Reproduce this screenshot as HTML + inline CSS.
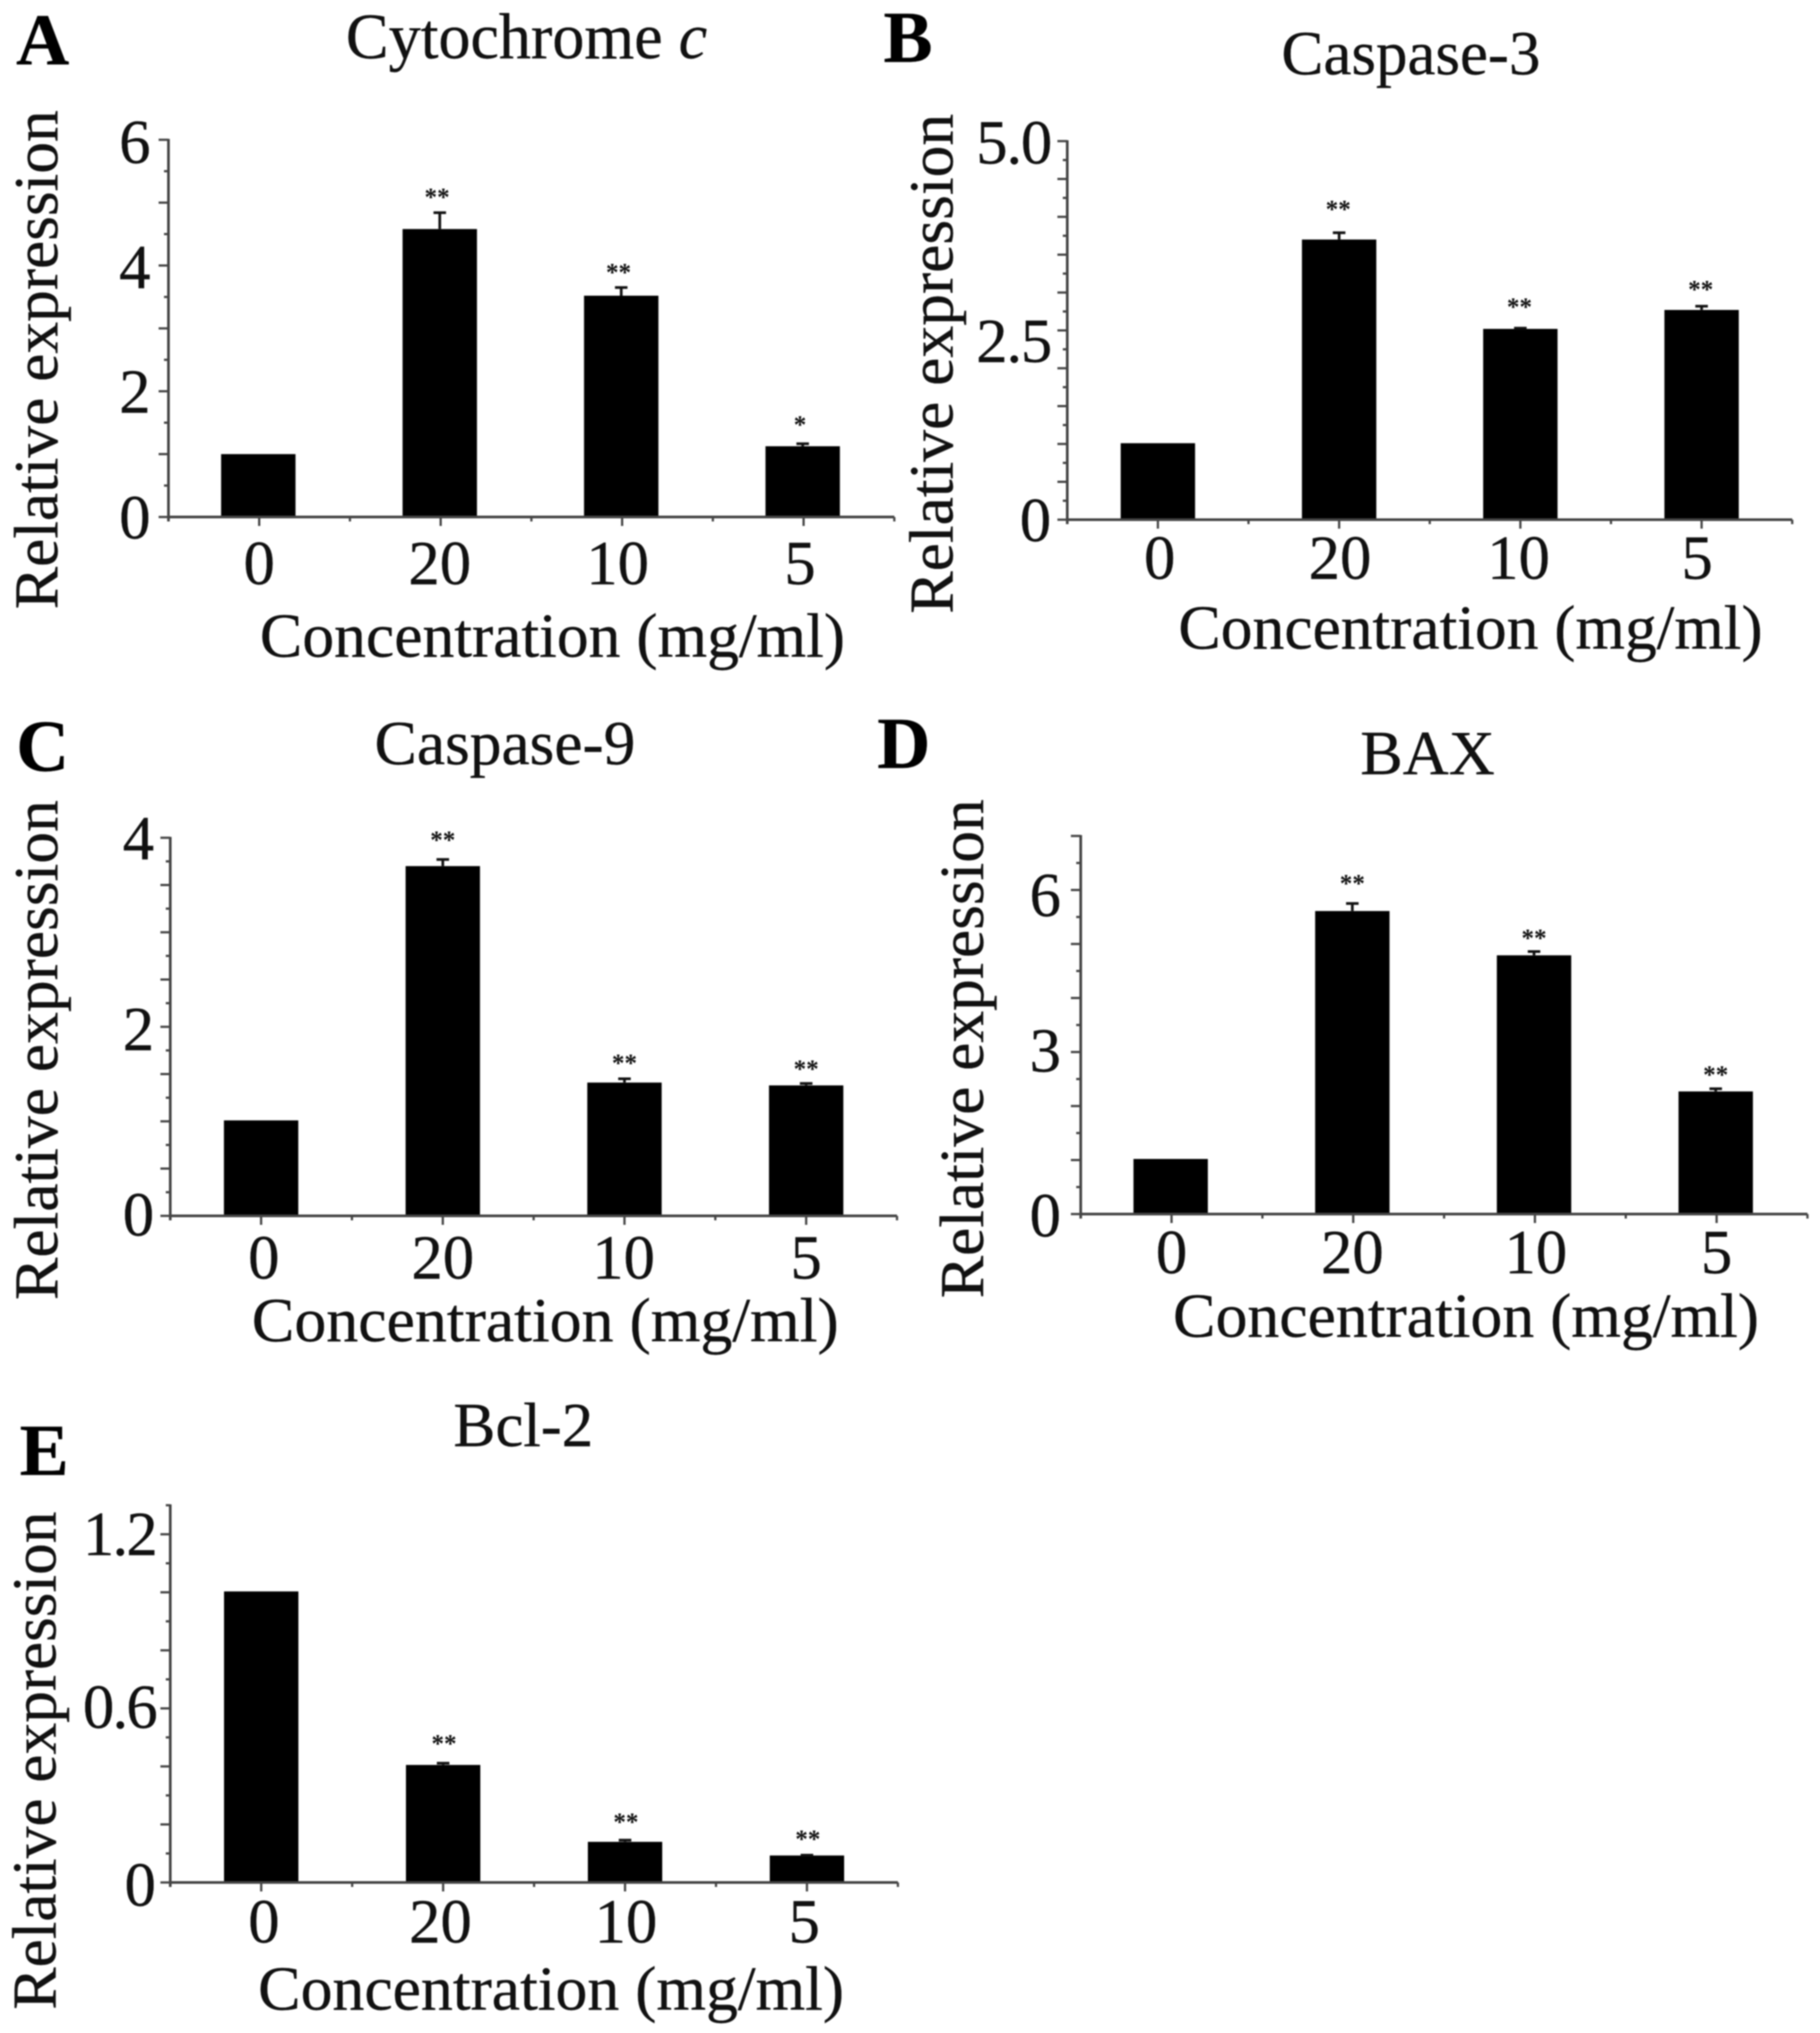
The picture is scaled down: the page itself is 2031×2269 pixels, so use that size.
<!DOCTYPE html>
<html lang="en">
<head>
<meta charset="utf-8">
<title>Relative expression by concentration</title>
<style>
html,body{margin:0;padding:0;background:#fff;}
body{width:2031px;height:2269px;overflow:hidden;}
svg{display:block;filter:blur(0.8px);}
text{font-family:"Liberation Serif",serif;fill:#111;stroke:#111;stroke-width:0.4px;}
.axis-title,.tick-label,.panel-title{font-size:70px;}
.panel-letter{font-size:82px;font-weight:bold;fill:#000;}
.star{font-size:28px;font-weight:bold;text-anchor:middle;stroke-width:0;}
</style>
</head>
<body>
<svg id="figure" xmlns="http://www.w3.org/2000/svg" width="2031" height="2269" viewBox="0 0 2031 2269">
  <rect x="0" y="0" width="2031" height="2269" fill="#fff"/>

  <g>
    <text class="panel-letter" x="18" y="72">A</text>
    <text class="panel-title" style="font-size:71.5px" x="386" y="65">Cytochrome <tspan font-style="italic">c</tspan></text>
    <text class="axis-title" transform="translate(64,680) rotate(-90)" textLength="557" lengthAdjust="spacingAndGlyphs">Relative expression</text>
    <text class="axis-title" x="290" y="733" textLength="653" lengthAdjust="spacingAndGlyphs">Concentration (mg/ml)</text>
  </g>
  <g>
    <text class="panel-letter" x="986" y="69">B</text>
    <text class="panel-title" x="1430" y="83" textLength="289" lengthAdjust="spacingAndGlyphs">Caspase-3</text>
    <text class="axis-title" transform="translate(1063,685) rotate(-90)" textLength="558" lengthAdjust="spacingAndGlyphs">Relative expression</text>
    <text class="axis-title" x="1315" y="724" textLength="652" lengthAdjust="spacingAndGlyphs">Concentration (mg/ml)</text>
  </g>
  <g>
    <text class="panel-letter" x="18" y="860">C</text>
    <text class="panel-title" x="418" y="853" textLength="291" lengthAdjust="spacingAndGlyphs">Caspase-9</text>
    <text class="axis-title" transform="translate(64,1451) rotate(-90)" textLength="558" lengthAdjust="spacingAndGlyphs">Relative expression</text>
    <text class="axis-title" x="281" y="1497" textLength="655" lengthAdjust="spacingAndGlyphs">Concentration (mg/ml)</text>
  </g>
  <g>
    <text class="panel-letter" x="979" y="857">D</text>
    <text class="panel-title" x="1518" y="864" textLength="150" lengthAdjust="spacingAndGlyphs">BAX</text>
    <text class="axis-title" transform="translate(1097,1449) rotate(-90)" textLength="557" lengthAdjust="spacingAndGlyphs">Relative expression</text>
    <text class="axis-title" x="1309" y="1492" textLength="654" lengthAdjust="spacingAndGlyphs">Concentration (mg/ml)</text>
  </g>
  <g>
    <text class="panel-letter" x="22" y="1646">E</text>
    <text class="panel-title" x="506" y="1614" textLength="156" lengthAdjust="spacingAndGlyphs">Bcl-2</text>
    <text class="axis-title" transform="translate(62,2243) rotate(-90)" textLength="556" lengthAdjust="spacingAndGlyphs">Relative expression</text>
    <text class="axis-title" x="288" y="2243" textLength="654" lengthAdjust="spacingAndGlyphs">Concentration (mg/ml)</text>
  </g>
</svg>

<script>
const categories = ['0', '20', '10', '5'];

const valuesA = [1.0, 4.58, 3.52, 1.125];
const errorsA = [0, 0.26, 0.13, 0.04];
const starsA = ['', '**', '**', '*'];
const starLevelsA = [null, 5.14, 3.94, 1.52];
const yTickLabelsA = ['0', '2', '4', '6'];

const valuesB = [1.01, 3.70, 2.52, 2.77];
const errorsB = [0, 0.09, 0.01, 0.05];
const starsB = ['', '**', '**', '**'];
const starLevelsB = [null, 4.14, 2.85, 3.08];
const yTickLabelsB = ['0', '2.5', '5.0'];

const valuesC = [1.01, 3.70, 1.41, 1.38];
const errorsC = [0, 0.07, 0.04, 0.02];
const starsC = ['', '**', '**', '**'];
const starLevelsC = [null, 4.01, 1.65, 1.59];
const yTickLabelsC = ['0', '2', '4'];

const valuesD = [1.02, 5.61, 4.79, 2.27];
const errorsD = [0, 0.14, 0.07, 0.05];
const starsD = ['', '**', '**', '**'];
const starLevelsD = [null, 6.18, 5.17, 2.64];
const yTickLabelsD = ['0', '3', '6'];

const valuesE = [1.003, 0.405, 0.14, 0.093];
const errorsE = [0, 0.006, 0.006, 0.001];
const starsE = ['', '**', '**', '**'];
const starLevelsE = [null, 0.49, 0.22, 0.16];
const yTickLabelsE = ['0', '0.6', '1.2'];

const SVG_NS = 'http://www.w3.org/2000/svg';
const figure = document.getElementById('figure');

function make(tag, attrs, parent) {
  const el = document.createElementNS(SVG_NS, tag);
  for (const key in attrs) el.setAttribute(key, attrs[key]);
  parent.appendChild(el);
  return el;
}

function drawPanel(id, values, errors, stars, starLevels, yTickLabels, frame) {
  const group = make('g', {}, figure);
  
  

  const band = (frame.right - frame.left) / categories.length;
  const xBand = i => frame.left + (i + 0.5) * band;
  const yScale = v => frame.bottom - v * (frame.bottom - frame.top) / frame.yMax;
  const barWidth = 83;
  const axisColor = '#444';

  values.forEach((value, i) => {
    const bar = make('rect', {
      x: xBand(i) - barWidth / 2 + frame.barShift,
      y: yScale(value),
      width: barWidth,
      height: frame.bottom - yScale(value),
      fill: '#000'
    }, group);
    
    

    if (errors[i] > 0) {
      const capY = yScale(value + errors[i]);
      const err = make('path', {
        d: 'M' + (xBand(i) + frame.barShift) + ' ' + yScale(value) + 'V' + capY + 'M' + (xBand(i) + frame.barShift - 7) + ' ' + capY + 'H' + (xBand(i) + frame.barShift + 7),
        stroke: '#111',
        'stroke-width': 3,
        fill: 'none'
      }, group);
      
      
    }

    if (stars[i]) {
      const star = make('text', {
        class: 'star',
        x: xBand(i) + frame.starShift,
        y: yScale(starLevels[i]) + 13
      }, group);
      star.textContent = stars[i];
      
      
    }

    const label = make('text', {
      class: 'tick-label',
      x: xBand(i) + (frame.xLabelNudge[i] || 0),
      y: frame.xLabelY,
      'text-anchor': 'middle'
    }, group);
    label.textContent = categories[i];
    
    
  });

  const xAxis = make('line', {
    x1: frame.left - 1, x2: frame.right,
    y1: frame.bottom, y2: frame.bottom,
    stroke: axisColor, 'stroke-width': 3
  }, group);
  
  

  const yAxis = make('line', {
    x1: frame.left, x2: frame.left,
    y1: frame.top - 1, y2: frame.bottom + 5,
    stroke: axisColor, 'stroke-width': 3
  }, group);
  
  

  for (let k = 0; k <= categories.length * 2; k++) {
    const tx = frame.left + k * band / 2;
    const tick = make('line', {
      x1: tx, x2: tx,
      y1: frame.bottom, y2: frame.bottom + (k % 2 ? 10 : 5),
      stroke: axisColor, 'stroke-width': 2.5
    }, group);
    
    
  }

  const tickCount = Math.round(frame.yMax / frame.yStep);
  for (let n = 0; n <= tickCount; n++) {
    const ty = yScale(n * frame.yStep);
    const tick = make('line', {
      x1: frame.left - (n % 2 ? 5 : 11), x2: frame.left,
      y1: ty, y2: ty,
      stroke: axisColor, 'stroke-width': 2.5
    }, group);
    
    
  }

  yTickLabels.forEach((text, i) => {
    const label = make('text', {
      class: 'tick-label',
      x: frame.yLabelRight,
      y: yScale(parseFloat(text)) + 24 + (frame.yLabelNudge[i] || 0),
      'text-anchor': 'end',
      'letter-spacing': text.indexOf('.') >= 0 ? frame.decimalSpacing : 0
    }, group);
    label.textContent = text;
    
    
  });
}

drawPanel('a', valuesA, errorsA, starsA, starLevelsA, yTickLabelsA, {
  left: 188, right: 998, top: 156, bottom: 577, yMax: 6, yStep: 0.5,
  xLabelY: 652, yLabelRight: 168, yLabelNudge: [0, 0, 1, 2], decimalSpacing: 0,
  xLabelNudge: [0, -1, -5, -4], barShift: -1, starShift: -4
});
drawPanel('b', valuesB, errorsB, starsB, starLevelsB, yTickLabelsB, {
  left: 1191, right: 2000, top: 157.5, bottom: 580, yMax: 5, yStep: 0.25,
  xLabelY: 646, yLabelRight: 1173, yLabelNudge: [0, 11, 1], decimalSpacing: -1.3,
  xLabelNudge: [2, 1, -2, -5], barShift: 0, starShift: -1
});
drawPanel('c', valuesC, errorsC, starsC, starLevelsC, yTickLabelsC, {
  left: 190, right: 1001, top: 935, bottom: 1357, yMax: 4, yStep: 0.25,
  xLabelY: 1427, yLabelRight: 172, yLabelNudge: [-2, 2, 0], decimalSpacing: 0,
  xLabelNudge: [3, 0, -1, 0], barShift: 0, starShift: 0
});
drawPanel('d', valuesD, errorsD, starsD, starLevelsD, yTickLabelsD, {
  left: 1206, right: 2017, top: 933, bottom: 1355, yMax: 7, yStep: 0.5,
  xLabelY: 1421, yLabelRight: 1184, yLabelNudge: [1, -2, 5], decimalSpacing: 0,
  xLabelNudge: [0, -1, 1, 0], barShift: -1, starShift: -1
});
drawPanel('e', valuesE, errorsE, starsE, starLevelsE, yTickLabelsE, {
  left: 190, right: 1002, top: 1680, bottom: 2101, yMax: 1.3, yStep: 0.1,
  xLabelY: 2168, yLabelRight: 174, yLabelNudge: [2, -2, -1], decimalSpacing: -2,
  xLabelNudge: [3, -3, 1, -3], barShift: 0, starShift: 1
});
</script>
</body>
</html>
